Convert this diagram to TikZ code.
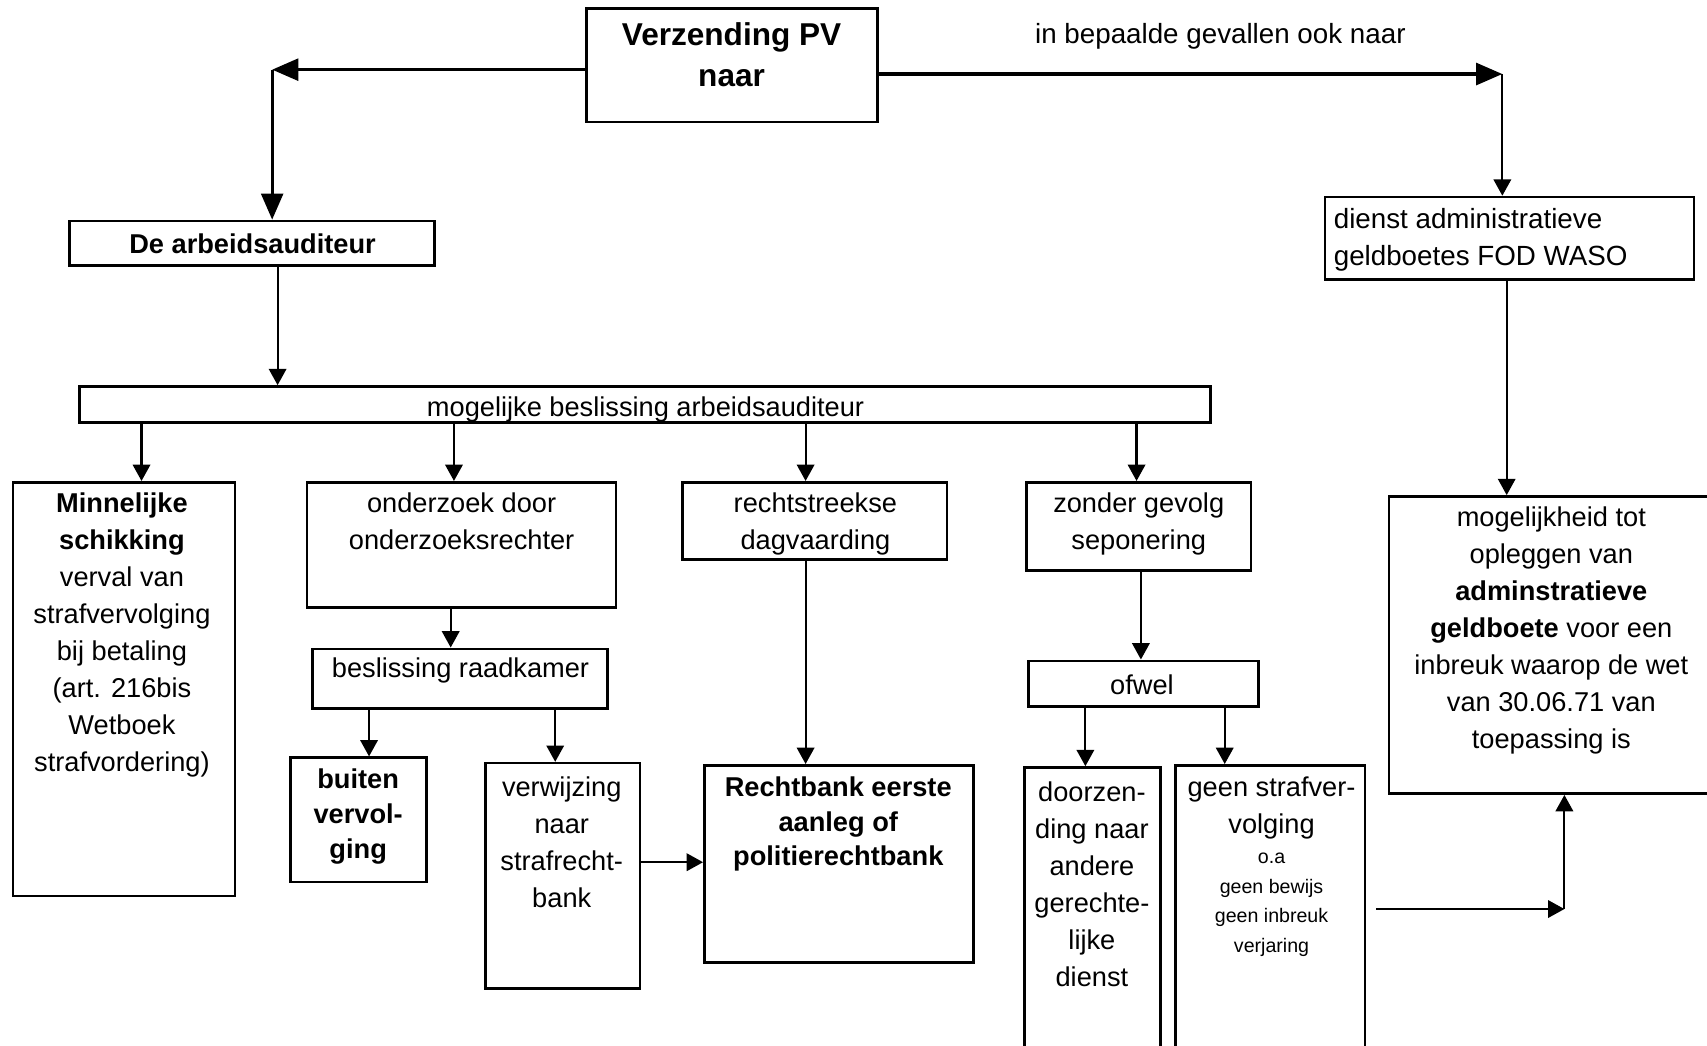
\documentclass[tikz,border=0pt]{standalone}
\usepackage{fontspec}
\setmainfont{Liberation Sans}
\usetikzlibrary{arrows.meta,fit}
\tikzset{
  box/.style={draw, line width=2.4pt, inner sep=0pt},
  txt/.style={align=center, inner sep=0pt, font=\fontsize{25}{34}\selectfont},
  btxt/.style={align=center, inner sep=0pt, font=\fontsize{25}{34}\selectfont\bfseries},
  arr/.style={line width=2pt, -{Triangle[length=15pt,width=16pt]}},
  arrbig/.style={line width=3pt, -{Triangle[length=24pt,width=20pt]}},
}
\begin{document}
\begin{tikzpicture}[x=1pt,y=-1pt]
\useasboundingbox (0,0) rectangle (1568,960);
\clip (0,0) rectangle (1568,960);

% boxes
\node[box, fit={(539,8) (806,112)}] (top) {};
\node[box, fit={(64,203) (399,244)}] (aud) {};
\node[box, fit={(73,355) (1112,388)}] (mog) {};
\node[box, fit={(12,443) (216,823)}] (minn) {};
\node[box, fit={(282,443) (566,558)}] (ond) {};
\node[box, fit={(287,596) (558,651)}] (rk) {};
\node[box, fit={(267,696) (392,810)}] (buit) {};
\node[box, fit={(446,701) (588,908)}] (verw) {};
\node[box, fit={(627,443) (870,514)}] (recht) {};
\node[box, fit={(647,703) (894,884)}] (rb) {};
\node[box, fit={(943,443) (1149,524)}] (zon) {};
\node[box, fit={(945,607) (1156,649)}] (ofw) {};
\node[box, fit={(941,705) (1066,990)}] (door) {};
\node[box, fit={(1080,703) (1254,990)}] (geen) {};
\node[box, fit={(1217,181) (1556,257)}] (dienst) {};
\node[box, fit={(1276,456) (1600,729)}] (mogh) {};

% texts
\node[btxt, font=\fontsize{29}{38}\selectfont\bfseries] (ttop) at (672,50) {Verzending PV\\naar};
\node[txt, font=\fontsize{25.5}{34}\selectfont] (tlab) at (1121,33) {in bepaalde gevallen ook naar};
\node[btxt] (taud) at (232,224) {De arbeidsauditeur};
\node[txt] (tmog) at (593,376) {mogelijke beslissing arbeidsauditeur};
\node[txt] (tminn) at (112,583) {\textbf{Minnelijke}\\\textbf{schikking}\\verval van\\strafvervolging\\bij betaling\\(art. 216bis\\Wetboek\\strafvordering)};
\node[txt] (tond) at (424,479) {onderzoek door\\onderzoeksrechter};
\node[txt] (trk) at (423,616) {beslissing raadkamer};
\node[btxt, font=\fontsize{25}{32}\selectfont\bfseries] (tbuit) at (329,750) {buiten\\vervol-\\ging};
\node[txt] (tverw) at (516,774) {verwijzing\\naar\\strafrecht-\\bank};
\node[txt] (trecht) at (749,481) {rechtstreekse\\dagvaarding};
\node[btxt, font=\fontsize{25}{31.5}\selectfont\bfseries] (trb) at (770,757) {Rechtbank eerste\\aanleg of\\politierechtbank};
\node[txt] (tzon) at (1046,481) {zonder gevolg\\seponering};
\node[txt] (tofw) at (1049,629) {ofwel};
\node[txt] (tdoor) at (1003,812) {doorzen-\\ding naar\\andere\\gerechte-\\lijke\\dienst};
\node[txt] (tgeen) at (1168,742) {geen strafver-\\volging};
\node[txt, font=\fontsize{18}{27}\selectfont] (tgeen2) at (1168,831) {o.a\\geen bewijs\\geen inbreuk\\verjaring};
\node[txt, font=\fontsize{25.5}{34}\selectfont, align=left, anchor=west] (tdienst) at (1225,220) {dienst administratieve\\geldboetes FOD WASO};
\node[txt] (tmogh) at (1425,579) {mogelijkheid tot\\opleggen van\\\textbf{adminstratieve}\\\textbf{geldboete} voor een\\inbreuk waarop de wet\\van 30.06.71 van\\toepassing is};

% helper coordinates
\coordinate (lc) at (250,64);
\coordinate (rc) at (1380,68);
\coordinate (k1) at (255,0);
\coordinate (k2) at (130,0);
\coordinate (k3) at (417,0);
\coordinate (k4) at (740,0);
\coordinate (k5) at (1044,0);
\coordinate (k6) at (414,0);
\coordinate (k7) at (339,0);
\coordinate (k8) at (510,0);
\coordinate (k9) at (1048,0);
\coordinate (k10) at (997,0);
\coordinate (k11) at (1125,0);
\coordinate (k12) at (1384,0);
\coordinate (h1) at (0,792);
\coordinate (g1) at (1264,835);
\coordinate (c2) at (1437,835);

% connectors
\draw[arrbig] (top.west |- lc) -- (lc);
\draw[arrbig] (lc) -- (aud.north -| lc);
\draw[arrbig] (top.east |- rc) -- (rc);
\draw[arr] (rc) -- (dienst.north -| rc);
\draw[arr] (aud.south -| k1) -- (mog.north -| k1);
\draw[arr] (mog.south -| k2) -- (minn.north -| k2);
\draw[arr] (mog.south -| k3) -- (ond.north -| k3);
\draw[arr] (mog.south -| k4) -- (recht.north -| k4);
\draw[arr] (mog.south -| k5) -- (zon.north -| k5);
\draw[arr] (ond.south -| k6) -- (rk.north -| k6);
\draw[arr] (rk.south -| k7) -- (buit.north -| k7);
\draw[arr] (rk.south -| k8) -- (verw.north -| k8);
\draw[arr] (verw.east |- h1) -- (rb.west |- h1);
\draw[arr] (recht.south -| k4) -- (rb.north -| k4);
\draw[arr] (zon.south -| k9) -- (ofw.north -| k9);
\draw[arr] (ofw.south -| k10) -- (door.north -| k10);
\draw[arr] (ofw.south -| k11) -- (geen.north -| k11);
\draw[arr] (g1) -- (c2);
\draw[arr] (c2) -- (mogh.south -| c2);
\draw[arr] (dienst.south -| k12) -- (mogh.north -| k12);
\end{tikzpicture}
\end{document}
